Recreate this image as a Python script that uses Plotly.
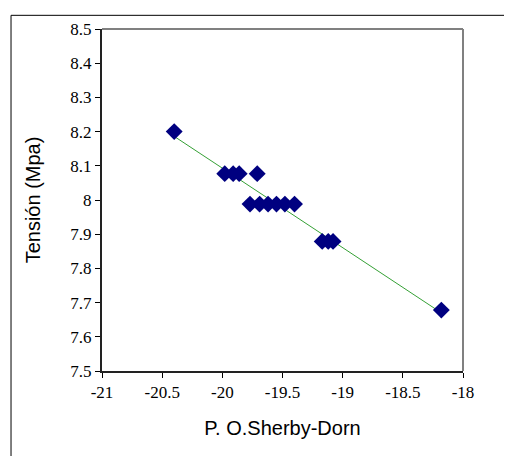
import numpy as np
import plotly.graph_objects as go

# Data
x_vals = [-20.40, -19.98, -19.91, -19.86, -19.71,
          -19.77, -19.69, -19.62, -19.55, -19.48, -19.40,
          -19.17, -19.12, -19.08, -18.18]
y_vals = [8.20, 8.077, 8.077, 8.077, 8.077,
          7.988, 7.988, 7.988, 7.988, 7.988, 7.988,
          7.879, 7.879, 7.879, 7.678]
x_ticks = [-21, -20.5, -20, -19.5, -19, -18.5, -18]
x_tick_text = ["-21", "-20.5", "-20", "-19.5", "-19", "-18.5", "-18"]
y_ticks = [7.5, 7.6, 7.7, 7.8, 7.9, 8.0, 8.1, 8.2, 8.3, 8.4, 8.5]
y_tick_text = ["7.5", "7.6", "7.7", "7.8", "7.9", "8", "8.1", "8.2", "8.3", "8.4", "8.5"]

# linear trendline from the data
slope, intercept = np.polyfit(x_vals, y_vals, 1)
tx = [float(min(x_vals)), float(max(x_vals))]
ty = [float(slope * v + intercept) for v in tx]

fig = go.Figure()
fig.add_trace(go.Scatter(x=tx, y=ty, mode="lines",
                         line=dict(color="#35a035", width=1), hoverinfo="skip"))
fig.add_trace(go.Scatter(x=x_vals, y=y_vals, mode="markers",
                         marker=dict(symbol="diamond", size=13, color="#000080")))

tickfont = dict(family="Liberation Serif, Times New Roman, serif", size=17, color="black")
titlefont = dict(family="Liberation Sans, Arial, sans-serif", size=20, color="black")

fig.update_layout(
    width=512, height=456,
    margin=dict(l=94, r=57, t=15, b=93),
    paper_bgcolor="white", plot_bgcolor="white",
    showlegend=False,
    font=dict(family="Liberation Serif, Times New Roman, serif", size=17, color="black"),
    xaxis=dict(range=[-21, -18], tickvals=x_ticks, ticktext=x_tick_text,
               ticks="outside", ticklen=5, tickwidth=1, tickcolor="black",
               showline=True, linecolor="#222", linewidth=2,
               showgrid=False, zeroline=False, tickfont=tickfont,
               title=dict(text="P. O.Sherby-Dorn", font=titlefont, standoff=20)),
    yaxis=dict(range=[7.5, 8.5], tickvals=y_ticks, ticktext=y_tick_text,
               ticks="outside", ticklen=5, tickwidth=1, tickcolor="black",
               showline=True, linecolor="#222", linewidth=2,
               showgrid=False, zeroline=False, tickfont=tickfont,
               title=dict(text="Tensión (Mpa)", font=titlefont, standoff=24)),
    shapes=[
        dict(type="line", xref="paper", yref="paper", x0=0, x1=1, y0=1, y1=1,
             line=dict(color="#808080", width=2), layer="below"),
        dict(type="line", xref="paper", yref="paper", x0=1, x1=1, y0=0, y1=1,
             line=dict(color="#808080", width=2), layer="below"),
        dict(type="rect", xref="paper", yref="paper", x0=-0.252, x1=1.15,
             y0=-0.27, y1=1.040, line=dict(color="black", width=1)),
    ],
)

fig.write_html("out.html")
